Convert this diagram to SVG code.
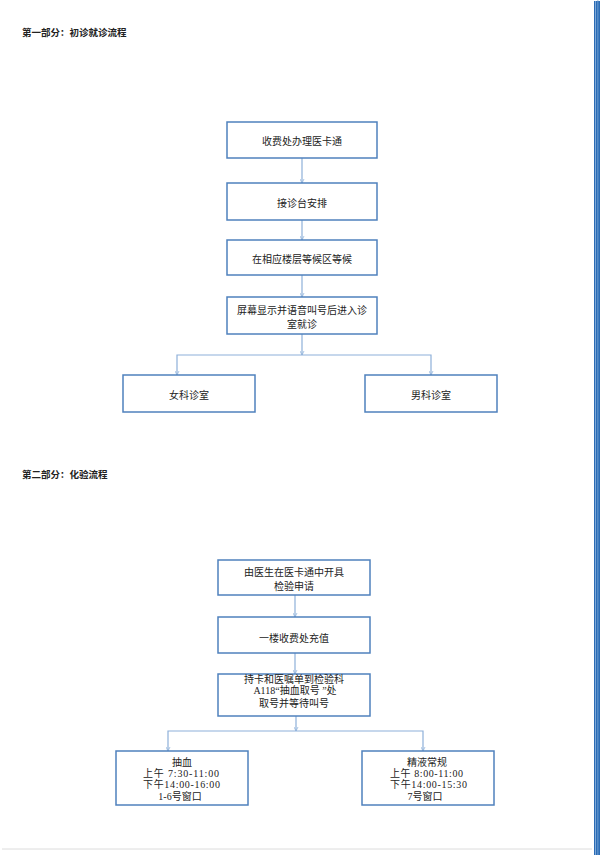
<svg xmlns="http://www.w3.org/2000/svg" width="600" height="855" viewBox="0 0 600 855">
<defs>
<style>
.t{font-family:"Noto Sans CJK SC","Liberation Sans",sans-serif;font-size:10px;fill:#222;text-anchor:middle;dominant-baseline:central}
.m{font-family:"Liberation Serif","Noto Sans CJK SC",serif;font-size:10px;fill:#222;text-anchor:middle;dominant-baseline:central}
.h{font-family:"Noto Sans CJK SC","Liberation Sans",sans-serif;font-size:9.5px;font-weight:bold;fill:#222;dominant-baseline:central}
.box{fill:#fff;stroke:#4f81bd;stroke-width:1.5}
.c{fill:none;stroke:#8eb0d9;stroke-width:1.2}
</style>
<marker id="a" viewBox="0 0 10 10" refX="9" refY="5" markerWidth="5" markerHeight="5" markerUnits="userSpaceOnUse" orient="auto">
<path d="M1,1 L9,5 L1,9" fill="none" stroke="#8eb0d9" stroke-width="1.5"/>
</marker>
</defs>
<rect width="600" height="855" fill="#fff"/>
<line x1="2" y1="849" x2="592" y2="849" stroke="#dcdcdc" stroke-width="1"/>
<rect x="594" y="1" width="6" height="854" fill="#2b6cb5"/>
<rect x="595" y="1" width="1" height="854" fill="#7fa9d8"/>
<rect x="597.5" y="0" width="0.8" height="855" fill="#7fa9d8"/>

<text class="h" x="22" y="31.5">第一部分：初诊就诊流程</text>
<text class="h" x="22" y="473.5">第二部分：化验流程</text>

<g id="connectors">
<line class="c" x1="302" y1="158" x2="302" y2="183" marker-end="url(#a)"/>
<line class="c" x1="302" y1="220" x2="302" y2="240" marker-end="url(#a)"/>
<line class="c" x1="302" y1="275" x2="302" y2="297" marker-end="url(#a)"/>
<line class="c" x1="302" y1="334" x2="302" y2="355" marker-end="url(#a)"/>
<polyline class="c" points="302,355 177,355 177,375" marker-end="url(#a)"/>
<polyline class="c" points="302,355 431,355 431,375" marker-end="url(#a)"/>
<line class="c" x1="295" y1="595" x2="295" y2="617" marker-end="url(#a)"/>
<line class="c" x1="295" y1="653" x2="295" y2="674" marker-end="url(#a)"/>
<line class="c" x1="296" y1="716" x2="296" y2="731" marker-end="url(#a)"/>
<polyline class="c" points="296,731 168,731 168,751" marker-end="url(#a)"/>
<polyline class="c" points="296,731 423,731 423,751" marker-end="url(#a)"/>
</g>

<g id="n1"><rect class="box" x="227" y="122" width="150" height="36"/><text class="t" x="302" y="140.5">收费处办理医卡通</text></g>
<g id="n2"><rect class="box" x="227" y="183" width="150" height="37"/><text class="t" x="302" y="202">接诊台安排</text></g>
<g id="n3"><rect class="box" x="227" y="240" width="150" height="35"/><text class="t" x="302" y="258">在相应楼层等候区等候</text></g>
<g id="n4"><rect class="box" x="227" y="297" width="150" height="37"/><text class="t" x="302" y="309">屏幕显示并语音叫号后进入诊</text><text class="t" x="302" y="323">室就诊</text></g>
<g id="n5"><rect class="box" x="123" y="375" width="132" height="37"/><text class="t" x="189" y="394">女科诊室</text></g>
<g id="n6"><rect class="box" x="365" y="375" width="132" height="37"/><text class="t" x="431" y="394">男科诊室</text></g>

<g id="n7"><rect class="box" x="218" y="560" width="152" height="35"/><text class="t" x="294" y="571.5">由医生在医卡通中开具</text><text class="t" x="294" y="585">检验申请</text></g>
<g id="n8"><rect class="box" x="218" y="617" width="152" height="36"/><text class="t" x="294" y="637">一楼收费处充值</text></g>
<g id="n9"><rect class="box" x="218" y="674" width="152" height="42"/><text class="t" x="294" y="678.5">持卡和医嘱单到检验科</text><text class="m" x="295" y="690.5">A118“抽血取号 ”处</text><text class="t" x="294" y="702.5">取号并等待叫号</text></g>
<g id="n10"><rect class="box" x="116" y="751" width="132" height="54"/><text class="t" x="182" y="761.5">抽血</text><text class="m" x="181" y="773" textLength="76" lengthAdjust="spacing">上午 7:30-11:00</text><text class="m" x="181.5" y="784.5" textLength="77" lengthAdjust="spacing">下午14:00-16:00</text><text class="m" x="180" y="796.5">1-6号窗口</text></g>
<g id="n11"><rect class="box" x="362" y="751" width="132" height="54"/><text class="t" x="427" y="761.5">精液常规</text><text class="m" x="426.5" y="773" textLength="73" lengthAdjust="spacing">上午 8:00-11:00</text><text class="m" x="428.5" y="784.5" textLength="77" lengthAdjust="spacing">下午14:00-15:30</text><text class="m" x="425" y="796.5">7号窗口</text></g>
</svg>
